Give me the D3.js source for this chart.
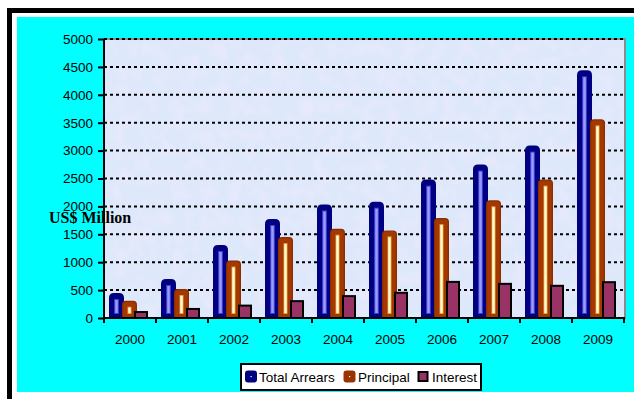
<!doctype html>
<html lang="en">
<head>
<meta charset="utf-8" />
<title>Arrears</title>
<script src="https://d3js.org/d3.v7.min.js"></script>
<style>
  html, body { margin: 0; padding: 0; background: #fff; }
  svg { display: block; }
</style>
</head>
<body>
<div id="chart"></div>
<script>
// data (US$ million)
const years = ["2000", "2001", "2002", "2003", "2004", "2005", "2006", "2007", "2008", "2009"];
const totalArrears = [450, 700, 1310, 1775, 2035, 2085, 2480, 2750, 3090, 4440];
const principal = [310, 520, 1030, 1450, 1600, 1570, 1790, 2110, 2480, 3560];
const interest = [125, 180, 240, 320, 410, 470, 665, 630, 595, 660];
const seriesNames = ["Total Arrears", "Principal", "Interest"];
const yTicks = [0, 500, 1000, 1500, 2000, 2500, 3000, 3500, 4000, 4500, 5000];

const W = 634, H = 399;
const svg = d3.select("#chart").append("svg")
  .attr("width", W).attr("height", H);

const defs = svg.append("defs");
const f = defs.append("filter").attr("id", "mottle")
  .attr("x", 0).attr("y", 0).attr("width", 1).attr("height", 1);
f.append("feTurbulence").attr("type", "fractalNoise")
  .attr("baseFrequency", 0.07).attr("numOctaves", 2).attr("seed", 3);
f.append("feColorMatrix").attr("type", "matrix")
  .attr("values", "0 0 0 0 0.96  0 0 0 0 0.84  0 0 0 0 0.96  1.3 0 0 0 -0.5");

// outer frame + cyan panel
svg.append("rect").attr("x", 9.5).attr("y", 10.5).attr("width", 700).attr("height", 500)
  .attr("fill", "none").attr("stroke", "#000").attr("stroke-width", 5);
svg.append("rect").attr("x", 17).attr("y", 17).attr("width", W - 17).attr("height", 375)
  .attr("fill", "#00ffff");

const x = d3.scaleBand().domain(years).range([104, 624]).padding(0);
const inner = d3.scaleBand().domain(seriesNames).range([5, 44]).padding(0);
const y = d3.scaleLinear().domain([0, 5000]).range([318, 39]);

// plot area
const pw = 624 - 104, ph = y(0) - y(5000);
svg.append("rect").attr("x", 104).attr("y", y(5000)).attr("width", pw).attr("height", ph)
  .attr("fill", "#dde8fb");
svg.append("rect").attr("x", 104).attr("y", y(5000)).attr("width", pw).attr("height", ph)
  .attr("fill", "#fff").attr("filter", "url(#mottle)").attr("opacity", 0.6);
svg.append("rect").attr("x", 104).attr("y", y(5000)).attr("width", pw + 1).attr("height", ph)
  .attr("fill", "none").attr("stroke", "#8c8c8c").attr("stroke-width", 2);

// dotted gridlines
svg.append("g").selectAll("line").data(yTicks.filter(d => d > 0))
  .join("line")
  .attr("x1", 104).attr("x2", 624)
  .attr("y1", d => y(d)).attr("y2", d => y(d))
  .attr("stroke", "#000").attr("stroke-width", 2).attr("stroke-dasharray", "3,3");

// y axis
const yAxis = svg.append("g").attr("transform", "translate(104,0)")
  .call(d3.axisLeft(y).tickValues(yTicks).tickSize(6).tickPadding(5).tickFormat(d3.format("d")));
yAxis.select(".domain").attr("stroke", "#000").attr("stroke-width", 2).attr("d", `M0,${y(5000)}V${y(0)}`);
yAxis.selectAll(".tick line").attr("stroke", "#000").attr("stroke-width", 2);
yAxis.selectAll("text").attr("font-family", "Liberation Sans, Arial, sans-serif")
  .attr("font-size", "13.5px").attr("fill", "#000");

// bars
function roundTop(x0, w, yt, yb, r) {
  return `M${x0},${yb}V${yt + r}Q${x0},${yt} ${x0 + r},${yt}H${x0 + w - r}Q${x0 + w},${yt} ${x0 + w},${yt + r}V${yb}Z`;
}
const gBars = svg.append("g");
years.forEach((yr, i) => {
  const bx = x(yr);
  // total arrears
  const tx = bx + inner("Total Arrears");
  gBars.append("path").attr("d", roundTop(tx, 15, y(totalArrears[i]), y(0), 5)).attr("fill", "#000080");
  gBars.append("rect").attr("x", tx + 5).attr("y", y(totalArrears[i]) + 6)
    .attr("width", 5).attr("height", Math.max(0, y(0) - y(totalArrears[i]) - 10))
    .attr("fill", "#3a3ac8");
  gBars.append("rect").attr("x", tx + 6.2).attr("y", y(totalArrears[i]) + 7)
    .attr("width", 2.6).attr("height", Math.max(0, y(0) - y(totalArrears[i]) - 12))
    .attr("fill", "#9a9aff");
  // principal
  const px = bx + inner("Principal");
  gBars.append("path").attr("d", roundTop(px, 15, y(principal[i]), y(0), 4)).attr("fill", "#8a2e00");
  gBars.append("path").attr("d", roundTop(px + 1.2, 12.6, y(principal[i]) + 1.2, y(0), 3)).attr("fill", "#a33800");
  gBars.append("rect").attr("x", px + 5.5).attr("y", y(principal[i]) + 6)
    .attr("width", 4).attr("height", Math.max(0, y(0) - y(principal[i]) - 10))
    .attr("fill", "#e8a040");
  gBars.append("rect").attr("x", px + 6.3).attr("y", y(principal[i]) + 7)
    .attr("width", 2.4).attr("height", Math.max(0, y(0) - y(principal[i]) - 12))
    .attr("fill", "#ffffd0");
  // interest
  const ix = bx + inner("Interest");
  gBars.append("rect").attr("x", ix).attr("y", y(interest[i]) + 1)
    .attr("width", 12).attr("height", y(0) - y(interest[i]) - 1)
    .attr("fill", "#993366").attr("stroke", "#000").attr("stroke-width", 2);
});

// x axis
const xAxis = svg.append("g").attr("transform", `translate(0,${y(0)})`)
  .call(d3.axisBottom(x).tickSize(0).tickPadding(16));
xAxis.select(".domain").attr("stroke", "#000").attr("stroke-width", 2).attr("d", "M103,0H625");
xAxis.selectAll("text").attr("font-family", "Liberation Sans, Arial, sans-serif")
  .attr("font-size", "13.5px").attr("fill", "#000");
svg.append("g").selectAll("line").data(years.concat(["end"]))
  .join("line")
  .attr("x1", d => d === "end" ? 624 : x(d)).attr("x2", d => d === "end" ? 624 : x(d))
  .attr("y1", y(0)).attr("y2", y(0) + 5)
  .attr("stroke", "#000").attr("stroke-width", 2);

// axis title (sits over the plot, as in the original)
svg.append("text").attr("x", 49).attr("y", 223)
  .attr("font-family", "Liberation Serif, Times New Roman, serif")
  .attr("font-weight", "bold").attr("font-size", "16px").attr("fill", "#000")
  .text("US$ Million");

// legend
const lg = svg.append("g");
lg.append("rect").attr("x", 241).attr("y", 364).attr("width", 240).attr("height", 26)
  .attr("fill", "#fff").attr("stroke", "#000").attr("stroke-width", 2);
const legendItems = [
  { name: seriesNames[0], x: 245, tx: 259, color: "#000080" },
  { name: seriesNames[1], x: 343.5, tx: 358, color: "#993300" },
  { name: seriesNames[2], x: 418.5, tx: 432, color: "#993366" }
];
legendItems.forEach((d, i) => {
  if (i < 2) {
    lg.append("rect").attr("x", d.x).attr("y", 370.5).attr("width", 12).attr("height", 12)
      .attr("rx", 3).attr("fill", d.color);
    lg.append("rect").attr("x", d.x + 5.5).attr("y", 376).attr("width", 1.2).attr("height", 1.2)
      .attr("fill", "#fff");
  } else {
    lg.append("rect").attr("x", d.x).attr("y", 372).attr("width", 9).attr("height", 9)
      .attr("fill", d.color).attr("stroke", "#000").attr("stroke-width", 2);
  }
  lg.append("text").attr("x", d.tx).attr("y", 381.5)
    .attr("font-family", "Liberation Sans, Arial, sans-serif")
    .attr("font-size", "13.5px").attr("fill", "#000").text(d.name);
});
</script>
</body>
</html>
